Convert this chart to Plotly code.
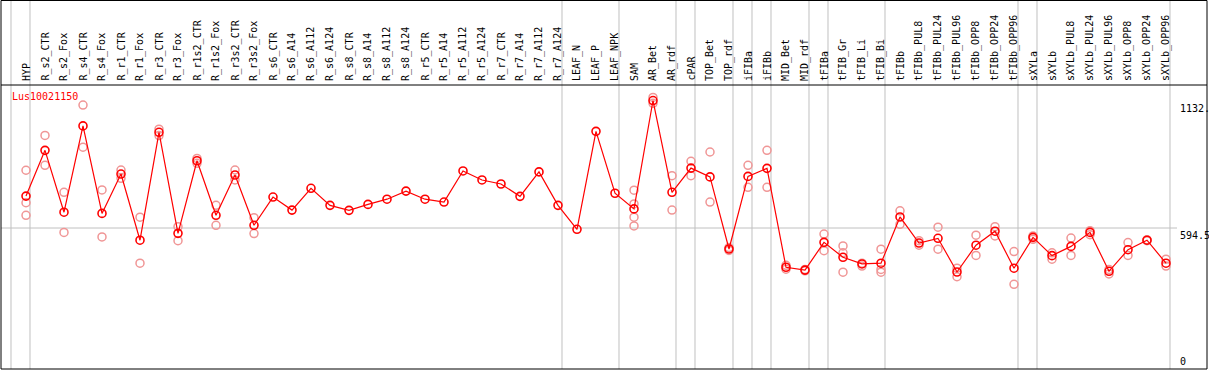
import plotly.graph_objects as go

categories = ["HYP", "R_s2_CTR", "R_s2_Fox", "R_s4_CTR", "R_s4_Fox", "R_r1_CTR", "R_r1_Fox",
              "R_r3_CTR", "R_r3_Fox", "R_r1s2_CTR", "R_r1s2_Fox", "R_r3s2_CTR", "R_r3s2_Fox",
              "R_s6_CTR", "R_s6_A14", "R_s6_A112", "R_s6_A124", "R_s8_CTR", "R_s8_A14", "R_s8_A112",
              "R_s8_A124", "R_r5_CTR", "R_r5_A14", "R_r5_A112", "R_r5_A124", "R_r7_CTR", "R_r7_A14",
              "R_r7_A112", "R_r7_A124", "LEAF_N", "LEAF_P", "LEAF_NPK", "SAM", "AR_Bet", "AR_rdf",
              "cPAR", "TOP_Bet", "TOP_rdf", "iFIBa", "iFIBb", "MID_Bet", "MID_rdf", "tFIBa",
              "tFIB_Gr", "tFIB_Li", "tFIB_Bi", "tFIBb", "tFIBb_PUL8", "tFIBb_PUL24", "tFIBb_PUL96",
              "tFIBb_OPP8", "tFIBb_OPP24", "tFIBb_OPP96", "sXYLa", "sXYLb", "sXYLb_PUL8",
              "sXYLb_PUL24", "sXYLb_PUL96", "sXYLb_OPP8", "sXYLb_OPP24", "sXYLb_OPP96"]

mean_values = [729, 922, 661, 1025, 656, 822, 543, 998, 572, 878, 648, 818, 606,
               725, 670, 762, 690, 669, 694, 716, 750, 716, 704, 835, 797, 780, 728,
               831, 690, 589, 1002, 741, 675, 1132, 745, 847, 810, 506, 812, 846,
               429, 417, 534, 471, 443, 446, 641, 531, 551, 409, 522, 581, 425,
               555, 478, 517, 576, 412, 503, 543, 446]

replicates = [
    [838, 701, 648], [985, 859], [745, 576], [1113, 935], [755, 557], [839, 804],
    [640, 446], [1011, 984], [600, 541], [888, 867], [690, 606], [839, 797], [638, 571],
    [], [], [], [], [], [], [], [], [], [], [], [], [], [], [], [], [], [], [],
    [754, 696, 640, 603], [1145, 1120], [815, 670], [876, 815], [915, 704], [512, 500],
    [859, 766], [922, 766], [437, 421], [420, 414], [569, 499], [519, 490, 408],
    [446, 434], [505, 420, 408], [667, 610], [541, 522], [598, 505], [425, 389],
    [564, 479], [600, 561], [495, 357], [561, 547], [490, 463], [552, 479], [583, 566],
    [420, 401], [533, 479], [545, 541], [463, 434]]

gene_id = "Lus10021150"
group_ends = [-1, 0, 28, 31, 34, 35, 37, 38, 39, 41, 42, 45, 52, 53, 60]
y_label_values = [1132, 594.5, 0]
y_label_texts = ["1132.", "594.5", "0"]

W, H = 1209, 370
ML, MR, MT, MB = 1, 2, 85, 1
plot_h = H - MT - MB
step = 19.0
x_first = 26.0
x_lo = (ML - x_first) / step
x_hi = (W - MR - x_first) / step
y_hi = 594.5 * plot_h / 141.0

idx = list(range(len(categories)))
rep_x, rep_y = [], []
for i, reps in enumerate(replicates):
    for v in reps:
        rep_x.append(i)
        rep_y.append(v)

font_mono = "DejaVu Sans Mono"
fig = go.Figure()
fig.add_trace(go.Scatter(x=rep_x, y=rep_y, mode="markers",
                         marker=dict(symbol="circle-open", size=8, color="rgb(240,150,150)",
                                     line=dict(width=1.5)),
                         hoverinfo="skip", showlegend=False))
fig.add_trace(go.Scatter(x=idx, y=mean_values, mode="lines+markers",
                         line=dict(color="#ff0000", width=1.2),
                         marker=dict(symbol="circle-open", size=8, color="#ff0000",
                                     line=dict(width=1.6)),
                         showlegend=False))

shapes = []
top_paper = 1 + MT / plot_h
for g in group_ends:
    shapes.append(dict(type="line", xref="x", yref="paper", x0=g + 0.21, x1=g + 0.21,
                       y0=0, y1=top_paper, line=dict(color="#c0c0c0", width=1), layer="below"))
shapes.append(dict(type="line", xref="paper", yref="y", x0=0, x1=(1177 - ML) / (W - ML - MR),
                   y0=y_label_values[1], y1=y_label_values[1],
                   line=dict(color="#c0c0c0", width=1), layer="below"))
shapes.append(dict(type="rect", xref="paper", yref="paper", x0=0, x1=1, y0=0, y1=top_paper - 0.5 / plot_h,
                   line=dict(color="black", width=1)))
shapes.append(dict(type="line", xref="paper", yref="paper", x0=0, x1=1, y0=1, y1=1,
                   line=dict(color="black", width=1)))

annotations = []
for i, c in enumerate(categories):
    annotations.append(dict(x=i, y=1, xref="x", yref="paper", text=c, showarrow=False,
                            textangle=-90, xanchor="center", yanchor="bottom", yshift=2,
                            font=dict(family=font_mono, size=10, color="black")))
annotations.append(dict(x=(10 - ML) / (W - ML - MR), y=1, xref="paper", yref="paper", text=gene_id,
                        showarrow=False, xanchor="left", yanchor="top", yshift=-4,
                        font=dict(family=font_mono, size=10, color="#ff0000")))
for v, t in zip(y_label_values, y_label_texts):
    annotations.append(dict(x=(1178 - ML) / (W - ML - MR), y=v, xref="paper", yref="y", text=t,
                            showarrow=False, xanchor="left",
                            yanchor="bottom" if v == 0 else "top",
                            font=dict(family=font_mono, size=10, color="black")))

fig.update_layout(width=W, height=H, margin=dict(l=ML, r=MR, t=MT, b=MB),
                  paper_bgcolor="white", plot_bgcolor="white",
                  xaxis=dict(range=[x_lo, x_hi], showgrid=False, zeroline=False,
                             showticklabels=False, ticks=""),
                  yaxis=dict(range=[0, y_hi], showgrid=False, zeroline=False,
                             showticklabels=False, ticks=""),
                  shapes=shapes, annotations=annotations)
fig.write_html("out.html", config={"displayModeBar": False},
               post_script="document.body.style.margin='0';document.body.style.padding='0';"
                           "document.body.style.overflow='hidden';")
